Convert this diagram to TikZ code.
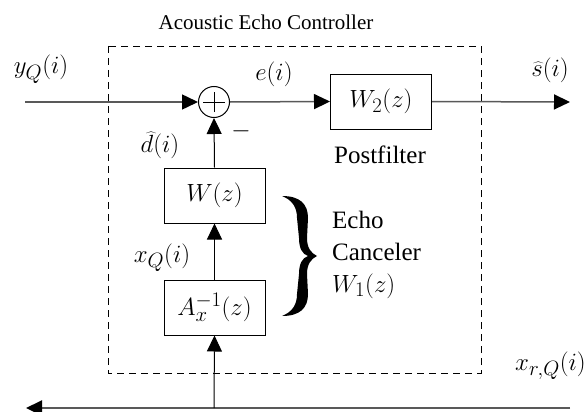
\documentclass[tikz,border=0pt]{standalone}
\usepackage[no-math]{fontspec}
\setmainfont{Liberation Serif}
\usetikzlibrary{arrows.meta}
\tikzset{
  blk/.style={draw, line width=1pt, minimum width=101pt, minimum height=55pt, inner sep=0pt, font=\fontsize{24.88}{28}\selectfont},
  lbl/.style={inner sep=0pt, font=\fontsize{24.88}{28}\selectfont},
  txt/.style={inner sep=0pt, font=\fontsize{25}{30}\selectfont},
  sig/.style={line width=1.5pt, black!65},
  vsig/.style={line width=1pt, black},
  tip/.style={-{Triangle[length=16pt,width=15pt,black]}},
}
\begin{document}
\begin{tikzpicture}[x=1pt,y=-1pt]
\useasboundingbox (0,0) rectangle (586,412);
% dashed controller frame
\draw[line width=0.9pt, dash pattern=on 7pt off 5pt] (108,46) rectangle (481,373);
\node[inner sep=0pt, font=\fontsize{21}{25}\selectfont, anchor=base] (title) at (266,30) {Acoustic Echo Controller};
% blocks
\node[draw, circle, line width=1pt, minimum size=31pt, inner sep=0pt] (sum) at (214,102) {};
\draw[line width=0.9pt] ([xshift=-11pt]sum.center) -- ([xshift=11pt]sum.center)
      ([yshift=-10pt]sum.center) -- ([yshift=10pt]sum.center);
\node[blk] (W2) at (381,101.5) {$W_2(z)$};
\node[blk] (W) at (214.5,195.5) {$W(z)$};
\node[blk] (A) at (214.5,307.5) {$A_x^{-1}(z)$};
% coordinates
\coordinate (in) at (25,102);
\coordinate (out) at (570,102);
\coordinate (br) at (570,408);
\coordinate (bl) at (26,408);
\coordinate (tap) at (214,408);
% connectors
\draw[sig, tip] (in) -- (sum.west);
\draw[sig, tip] (sum.east) -- (W2.west);
\draw[sig, tip] (W2.east) -- (out);
\draw[sig, line width=2pt, tip] (br) -- (bl);
\draw[vsig, tip] (tap) -- (A.south);
\draw[vsig, tip] (A.north) -- (W.south);
\draw[vsig, tip] (W.north) -- (sum.south);
% labels
\node[lbl, anchor=base] (yq) at (41,74) {$y_Q(i)$};
\node[lbl, anchor=base] (e) at (274,81) {$e(i)$};
\node[lbl, anchor=base] (sh) at (550,76) {$\widehat{s}(i)$};
\node[lbl, anchor=base] (dh) at (160,152) {$\widehat{d}(i)$};
\node[lbl, anchor=base] (xq) at (162,262) {$x_Q(i)$};
\node[lbl, anchor=base east] (xr) at (586,370) {$x_{r,Q}(i)$};
\node[lbl] (minus) at (241,131) {$-$};
\node[txt, anchor=base] (pf) at (380,163) {Postfilter};
% brace
\fill (282,196) .. controls (300,196) and (308,204) .. (308,218) -- (307,238)
  .. controls (307,248) and (311,253) .. (317,256)
  .. controls (311,259) and (307,264) .. (307,274) -- (308,294)
  .. controls (308,308) and (300,316) .. (282,316)
  .. controls (292,312) and (297,305) .. (297,294) -- (299,274)
  .. controls (299,264) and (302,258) .. (308,256)
  .. controls (302,254) and (299,248) .. (299,238) -- (297,218)
  .. controls (297,207) and (292,200) .. (282,196) -- cycle;
\node[txt, anchor=base west] (echo) at (332,228) {Echo};
\node[txt, anchor=base west] (canc) at (332,260) {Canceler};
\node[lbl, anchor=base west] (w1) at (332,292) {$W_1(z)$};
\end{tikzpicture}
\end{document}
